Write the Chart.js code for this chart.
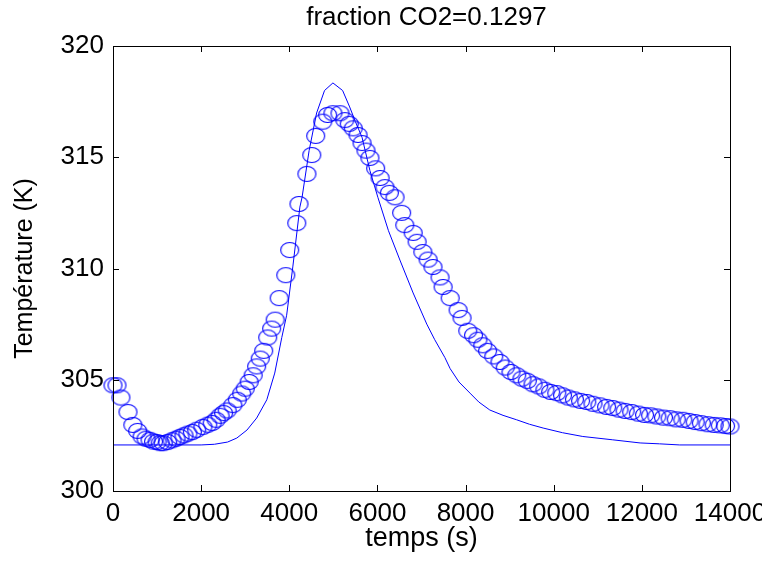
<!DOCTYPE html>
<html>
<head>
<meta charset="utf-8">
<script src="https://cdn.jsdelivr.net/npm/chart.js@4.4.1/dist/chart.umd.min.js"></script>
<style>
  html, body { margin: 0; padding: 0; background: #fff; }
  #wrap { width: 762px; height: 561px; }
</style>
</head>
<body>
<div id="wrap"><canvas id="plot" width="762" height="561"></canvas></div>
<script>
// measured data (circles)
const measTime = [0, 90, 180, 340, 450, 560, 660, 750, 840, 920, 1000, 1070, 1140, 1240, 1340, 1430, 1520, 1610, 1700, 1800,
    1900, 2040, 2150, 2250, 2340, 2430, 2510, 2590, 2720, 2820, 2920, 3000, 3090, 3180, 3260, 3340, 3420, 3510, 3600, 3680,
    3770, 3920, 4010, 4170, 4220, 4400, 4510, 4600, 4760, 4870, 4990, 5150, 5260, 5360, 5450, 5560, 5650, 5740, 5830, 5960,
    6060, 6170, 6270, 6400, 6550, 6620, 6810, 6900, 7030, 7150, 7260, 7420, 7490, 7650, 7830, 7920, 8050, 8180, 8280, 8390,
    8500, 8640, 8780, 8900, 9030, 9160, 9280, 9400, 9530, 9660, 9800, 9930, 10070, 10200, 10330, 10470, 10610, 10750, 10890, 11050,
    11200, 11340, 11480, 11620, 11770, 11920, 12060, 12200, 12340, 12490, 12640, 12780, 12930, 13070, 13210, 13350, 13500, 13640, 13780, 13900, 14000];
const measTemp = [304.75, 304.75, 304.2, 303.55, 302.97, 302.7, 302.45, 302.35, 302.3, 302.22, 302.2, 302.15, 302.15, 302.2, 302.28, 302.35, 302.43, 302.5, 302.58, 302.65,
    302.75, 302.88, 302.98, 303.06, 303.2, 303.38, 303.5, 303.62, 303.86, 304.1, 304.38, 304.6, 304.9, 305.2, 305.6, 305.95, 306.3, 306.9, 307.3, 307.7,
    308.67, 309.7, 310.83, 312.04, 312.9, 314.25, 315.1, 315.96, 316.6, 316.9, 316.98, 316.98, 316.67, 316.5, 316.3, 316.0, 315.64, 315.3, 314.97, 314.5,
    314.07, 313.66, 313.4, 313.2, 312.5, 311.95, 311.6, 311.2, 310.74, 310.4, 310.07, 309.6, 309.17, 308.67, 308.13, 307.78, 307.2, 307.0, 306.8, 306.55,
    306.3, 306.05, 305.8, 305.55, 305.35, 305.2, 305.05, 304.95, 304.8, 304.7, 304.55, 304.45, 304.4, 304.3, 304.2, 304.12, 304.05, 304.0, 303.92, 303.85,
    303.78, 303.73, 303.66, 303.6, 303.55, 303.48, 303.42, 303.4, 303.35, 303.3, 303.27, 303.22, 303.2, 303.15, 303.1, 303.05, 303.0, 302.97, 302.95, 302.92, 302.9];

// model (solid line)
const modelTime = [0, 1000, 2000, 2300, 2600, 2810, 3040, 3260, 3490, 3670, 3830, 3940, 4080, 4240, 4290, 4450, 4620, 4800, 4990, 5210,
    5370, 5500, 5650, 5830, 6010, 6250, 6510, 6810, 7120, 7300, 7530, 7650, 7850, 8100, 8300, 8550, 8850, 9160, 9450, 9760,
    10200, 10660, 11340, 11960, 12400, 12860, 14000];
const modelTemp = [302.07, 302.07, 302.07, 302.1, 302.2, 302.38, 302.74, 303.28, 304.1, 305.3, 306.9, 307.9, 310.07, 312.76, 313.2, 315.3, 316.99, 318.0, 318.34, 318.0,
    317.26, 316.6, 315.9, 314.4, 313.2, 311.7, 310.38, 308.9, 307.5, 306.8, 306.0, 305.5, 304.9, 304.4, 304.0, 303.64, 303.4, 303.2, 303.0, 302.83,
    302.62, 302.45, 302.3, 302.16, 302.12, 302.07, 302.07];

const xTicks = [0, 2000, 4000, 6000, 8000, 10000, 12000, 14000];
const yTicks = [300, 305, 310, 315, 320];

const titleText = 'fraction CO2=0.1297';
const xLabel = 'temps (s)';
const yLabel = 'Température (K)';

const FONT = 'Liberation Sans, Arial, Helvetica, sans-serif';
const BLUE = 'rgb(0,0,255)';

// 'o' marker, slightly wider than tall like the original
function makeMarker() {
    const c = document.createElement('canvas');
    c.width = 21; c.height = 18;
    const g = c.getContext('2d');
    g.strokeStyle = BLUE;
    g.lineWidth = 1.1;
    g.beginPath();
    g.ellipse(10.5, 9, 9, 7.5, 0, 0, Math.PI * 2);
    g.stroke();
    return c;
}

// box + inward ticks + title, MATLAB style
const boxPlugin = {
    id: 'boxPlugin',
    afterDraw(chart) {
        const { ctx, chartArea: a, scales } = chart;
        ctx.save();
        ctx.strokeStyle = '#000';
        ctx.lineWidth = 1;
        ctx.strokeRect(a.left + 0.5, a.top + 0.5, a.right - a.left, a.bottom - a.top);
        const tl = 6;
        ctx.beginPath();
        xTicks.forEach(v => {
            const px = Math.round(scales.x.getPixelForValue(v)) + 0.5;
            ctx.moveTo(px, a.bottom); ctx.lineTo(px, a.bottom - tl);
            ctx.moveTo(px, a.top); ctx.lineTo(px, a.top + tl);
        });
        yTicks.forEach(v => {
            const py = Math.round(scales.y.getPixelForValue(v)) + 0.5;
            ctx.moveTo(a.left, py); ctx.lineTo(a.left + tl, py);
            ctx.moveTo(a.right, py); ctx.lineTo(a.right - tl, py);
        });
        ctx.stroke();

        ctx.fillStyle = '#000';
        ctx.font = '26px ' + FONT;
        ctx.textAlign = 'center';
        ctx.textBaseline = 'middle';
        ctx.fillText(titleText, (a.left + a.right) / 2 + 5, 18);
        ctx.restore();
    }
};

new Chart(document.getElementById('plot'), {
    type: 'scatter',
    data: {
        datasets: [
            {
                label: 'model',
                data: modelTime.map((t, i) => ({ x: t, y: modelTemp[i] })),
                showLine: true,
                borderColor: BLUE,
                borderWidth: 1,
                pointRadius: 0,
                tension: 0,
                clip: false
            },
            {
                label: 'mesure',
                data: measTime.map((t, i) => ({ x: t, y: measTemp[i] })),
                showLine: false,
                pointStyle: makeMarker(),
                pointRadius: 9,
                clip: false
            }
        ]
    },
    options: {
        responsive: false,
        animation: false,
        events: [],
        layout: { padding: { top: 46, right: 32, left: 0, bottom: 0 } },
        plugins: { legend: { display: false }, tooltip: { enabled: false } },
        scales: {
            x: {
                type: 'linear',
                min: 0, max: 14000,
                afterBuildTicks: s => { s.ticks = xTicks.map(v => ({ value: v })); },
                afterFit: s => { s.height = 70; s.paddingLeft = 0; s.paddingRight = 0; },
                grid: { display: false, drawTicks: false },
                border: { display: false },
                ticks: { color: '#000', font: { family: FONT, size: 26 }, padding: 7, maxRotation: 0, autoSkip: false,
                    callback: v => String(v) },
                title: { display: true, text: xLabel, color: '#000', font: { family: FONT, size: 27 }, padding: { top: 0, bottom: 6 } }
            },
            y: {
                type: 'linear',
                min: 300, max: 320,
                afterBuildTicks: s => { s.ticks = yTicks.map(v => ({ value: v })); },
                afterFit: s => { s.width = 113; s.paddingTop = 0; s.paddingBottom = 0; },
                grid: { display: false, drawTicks: false },
                border: { display: false },
                ticks: { color: '#000', font: { family: FONT, size: 26 }, padding: 9, callback: v => String(v) },
                title: { display: true, text: yLabel, color: '#000', font: { family: FONT, size: 25 }, padding: { top: 10, bottom: 0 } }
            }
        }
    },
    plugins: [boxPlugin]
});
</script>
</body>
</html>
